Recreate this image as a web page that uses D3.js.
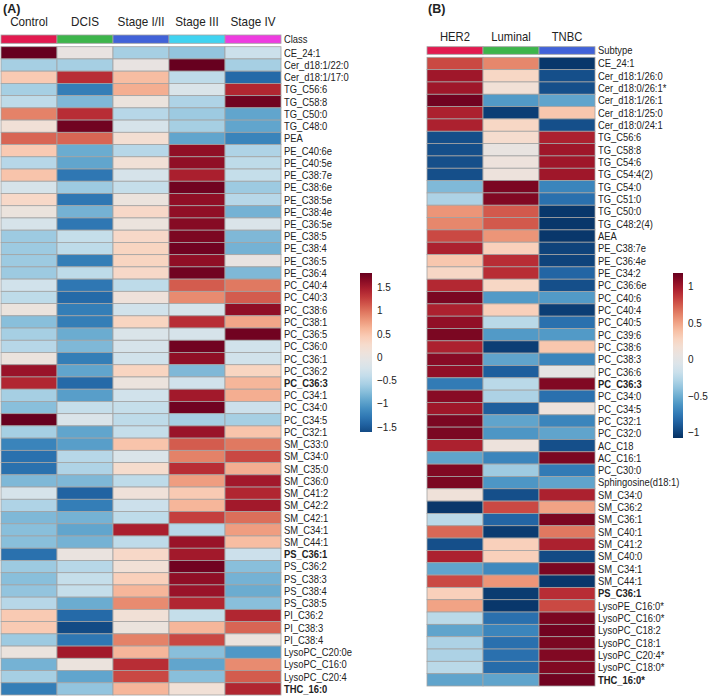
<!DOCTYPE html>
<html>
<head>
<meta charset="utf-8">
<script src="https://cdn.jsdelivr.net/npm/d3@7/dist/d3.min.js"></script>
<style>
  body { margin: 0; background: #fff; }
  text { font-family: Arial, "Liberation Sans", sans-serif; fill: #222; }
</style>
</head>
<body>
<script>
const outerWidth = 709;
const outerHeight = 699;

// ---- panel A data ----
const classesA = ["Control", "DCIS", "Stage I/II", "Stage III", "Stage IV"];
const classColorsA = ["#e21a4f", "#3db54b", "#4162d8", "#40d3f1", "#ee3ce0"];
const lipidsA = [
  "CE_24:1", "Cer_d18:1/22:0", "Cer_d18:1/17:0", "TG_C56:6", "TG_C58:8", "TG_C50:0", "TG_C48:0", "PEA",
  "PE_C40:6e", "PE_C40:5e", "PE_C38:7e", "PE_C38:6e", "PE_C38:5e", "PE_C38:4e", "PE_C36:5e", "PE_C38:5",
  "PE_C38:4", "PE_C36:5", "PE_C36:4", "PC_C40:4", "PC_C40:3", "PC_C38:6", "PC_C38:1", "PC_C36:5",
  "PC_C36:0", "PC_C36:1", "PC_C36:2", "PC_C36:3", "PC_C34:1", "PC_C34:0", "PC_C34:5", "PC_C32:1",
  "SM_C33:0", "SM_C34:0", "SM_C35:0", "SM_C36:0", "SM_C41:2", "SM_C42:2", "SM_C42:1", "SM_C34:1",
  "SM_C44:1", "PS_C36:1", "PS_C36:2", "PS_C38:3", "PS_C38:4", "PS_C38:5", "PI_C36:2", "PI_C38:3",
  "PI_C38:4", "LysoPC_C20:0e", "LysoPC_C16:0", "LysoPC_C20:4", "THC_16:0"
];
const boldA = ["PC_C36:3", "PS_C36:1", "THC_16:0"];
const valuesA = [
  [1.8, 0.0, -0.6, -0.7, -0.35],
  [-0.6, -0.6, 0.0, 1.8, -0.6],
  [0.45, 1.35, 0.55, -0.45, -1.4],
  [-0.6, -1.25, 0.65, -0.2, 1.4],
  [-0.45, -0.8, 0.05, -0.55, 1.75],
  [0.9, 1.35, -0.5, -0.65, -0.95],
  [0.15, 1.75, -0.25, -0.6, -0.95],
  [1.05, 1.05, 0.2, -0.95, -1.2],
  [0.45, -0.9, -0.5, 1.6, -0.55],
  [-0.5, -0.95, 0.15, 1.6, -0.45],
  [0.5, -1.3, -0.25, 1.45, -0.4],
  [-0.25, -0.65, -0.4, 1.75, -0.65],
  [0.3, -1.3, 0.05, 1.6, -0.5],
  [0.05, -0.85, 0.3, 1.6, -0.85],
  [-0.25, -1.3, 0.05, 1.65, -0.2],
  [-0.65, -0.4, 0.3, 1.7, -0.8],
  [-0.65, -0.45, 0.35, 1.75, -0.85],
  [-0.65, -1.25, 0.35, 1.6, 0.0],
  [-0.65, -0.45, 0.3, 1.75, -0.8],
  [-0.3, -1.3, -0.45, 1.1, 0.95],
  [-0.45, -1.4, 0.1, 0.85, 1.1],
  [0.05, -1.25, -0.3, -0.25, 1.6],
  [-0.75, -1.25, 0.35, 1.35, 0.7],
  [-0.6, -0.9, -0.2, -0.25, 1.75],
  [-0.5, -0.8, -0.25, 1.75, -0.3],
  [0.05, -1.25, -0.3, 1.6, -0.3],
  [1.55, -0.95, 0.35, -0.8, 0.35],
  [1.4, -1.4, 0.05, -0.3, 0.6],
  [-0.6, -1.0, -0.3, 1.5, 0.65],
  [-0.75, -0.4, -0.4, 1.75, -0.35],
  [1.8, -0.2, -0.45, -0.6, -0.6],
  [-0.6, -0.95, -0.4, 1.55, 0.5],
  [-1.2, -1.0, 0.5, 1.1, 0.95],
  [-1.35, -0.5, -0.2, 0.9, 1.2],
  [-1.35, -0.55, 0.25, 1.35, 0.65],
  [-0.8, -0.8, -0.45, 0.75, 1.5],
  [-0.25, -1.45, 0.12, 0.45, 1.4],
  [-0.55, -1.25, -0.35, 0.6, 1.5],
  [-0.8, -0.85, -0.45, 1.25, 1.0],
  [-0.75, -0.95, 1.45, -0.5, 0.75],
  [-0.75, -0.85, -0.45, 1.55, 0.55],
  [-1.35, 0.02, 0.3, 1.5, -0.35],
  [-0.65, -0.5, 0.15, 1.75, -0.75],
  [-0.75, -0.4, 0.4, 1.6, -0.85],
  [-0.7, -0.4, 0.6, 1.55, -0.9],
  [-0.5, -0.9, 0.85, 1.4, -0.75],
  [0.45, -1.4, 0.15, -0.4, 1.4],
  [0.45, -1.62, 0.05, 0.6, 1.05],
  [-0.65, -1.3, 0.9, 1.2, 0.05],
  [0.05, 1.5, 0.6, -0.75, -1.05],
  [-0.85, 0.05, 1.35, -0.95, 0.85],
  [-0.6, -0.95, 1.2, -0.75, 1.1],
  [-1.25, -0.7, 0.6, 0.15, 1.4]
];
const legendRangeA = [-1.62, 1.8];
const legendTicksA = [-1.5, -1, -0.5, 0, 0.5, 1, 1.5];

// ---- panel B data ----
const subtypesB = ["HER2", "Luminal", "TNBC"];
const subtypeColorsB = ["#e21a4f", "#3db54b", "#4162d8"];
const lipidsB = [
  "CE_24:1", "Cer_d18:1/26:0", "Cer_d18:0/26:1*", "Cer_d18:1/26:1", "Cer_d18:1/25:0", "Cer_d18:0/24:1",
  "TG_C56:6", "TG_C58:8", "TG_C54:6", "TG_C54:4(2)", "TG_C54:0", "TG_C51:0", "TG_C50:0", "TG_C48:2(4)",
  "AEA", "PE_C38:7e", "PE_C36:4e", "PE_C34:2", "PC_C36:6e", "PC_C40:6", "PC_C40:4", "PC_C40:5",
  "PC_C39:6", "PC_C38:6", "PC_C38:3", "PC_C36:6", "PC_C36:3", "PC_C34:0", "PC_C34:5", "PC_C32:1",
  "PC_C32:0", "AC_C18", "AC_C16:1", "PC_C30:0", "Sphingosine(d18:1)", "SM_C34:0", "SM_C36:2", "SM_C36:1",
  "SM_C40:1", "SM_C41:2", "SM_C40:0", "SM_C34:1", "SM_C44:1", "PS_C36:1", "LysoPE_C16:0*", "LysoPC_C16:0*",
  "LysoPC_C18:2", "LysoPC_C18:1", "LysoPC_C20:4*", "LysoPC_C18:0*", "THC_16:0*"
];
const boldB = ["PC_C36:3", "PS_C36:1", "THC_16:0*"];
const valuesB = [
  [0.8, 0.6, -1.05],
  [1.0, 0.25, -0.95],
  [1.0, 0.15, -0.95],
  [1.15, -0.6, -0.55],
  [0.95, -1.02, 0.35],
  [0.95, 0.25, -0.95],
  [-0.95, 0.2, 0.95],
  [-0.95, 0.05, 1.0],
  [-0.95, 0.1, 1.0],
  [-0.95, 0.1, 1.0],
  [-0.45, 1.12, -0.7],
  [-0.3, 1.1, -0.8],
  [0.55, 0.75, -1.05],
  [0.6, 0.75, -1.05],
  [0.8, 0.55, -1.05],
  [0.95, 0.3, -1.0],
  [0.35, 0.9, -1.0],
  [0.25, 0.9, -0.85],
  [0.92, 0.25, -0.95],
  [1.12, -0.6, -0.6],
  [0.95, 0.3, -1.02],
  [1.05, -0.25, -0.8],
  [1.12, -0.6, -0.6],
  [0.95, -1.02, 0.35],
  [1.08, -0.55, -0.7],
  [1.05, -0.88, 0.02],
  [-0.75, -0.25, 1.1],
  [1.08, -0.3, -0.8],
  [1.0, -0.88, 0.1],
  [1.12, -0.55, -0.7],
  [1.12, -0.62, -0.55],
  [0.95, 0.1, -0.95],
  [-0.55, -0.7, 1.12],
  [1.1, -0.35, -0.75],
  [1.12, -0.62, -0.55],
  [0.12, -0.95, 0.95],
  [-1.05, 0.8, 0.5],
  [-0.25, -0.85, 1.12],
  [0.7, -1.03, 0.65],
  [-0.95, 0.3, 0.95],
  [0.95, 0.3, -0.97],
  [-0.55, -0.68, 1.12],
  [0.8, 0.55, -1.05],
  [0.3, -1.03, 0.9],
  [0.5, -1.05, 0.8],
  [-0.25, -0.8, 1.12],
  [-0.55, -0.7, 1.15],
  [-0.3, -0.8, 1.12],
  [-0.3, -0.8, 1.1],
  [-0.25, -0.82, 1.1],
  [-0.55, -0.55, 1.15]
];
const legendRangeB = [-1.08, 1.18];
const legendTicksB = [-1, -0.5, 0, 0.5, 1];

// RdBu-like ramp
const palette = ["#053061", "#2166ac", "#4393c3", "#92c5de", "#d1e5f0", "#e9e5e3",
  "#fddbc7", "#f4a582", "#d6604d", "#b2182b", "#67001f"];
const ramp = d3.interpolateRgbBasis(palette);

const svg = d3.select("body").append("svg")
  .attr("width", outerWidth)
  .attr("height", outerHeight);

const defs = svg.append("defs");
const gridStroke = "#a3a3a3";
const squeeze = 0.87; // the figure text is a bit narrow

const drawPanel = opts => {
  const g = svg.append("g");
  const color = d3.scaleSequential(ramp).domain(opts.colorDomain);

  const xScale = d3.scaleBand().domain(opts.cols).range(opts.xRange);
  const yScale = d3.scaleBand().domain(opts.rows).range(opts.yRange);

  // panel letter
  g.append("text")
    .attr("x", opts.titleX).attr("y", 13)
    .style("font-size", "12.5px").style("font-weight", "bold")
    .text(opts.title);

  // column headers
  g.selectAll("text.col-label").data(opts.cols).enter().append("text")
    .attr("class", "col-label")
    .attr("transform", d => `translate(${xScale(d) + xScale.bandwidth() / 2}, ${opts.headerY}) scale(0.9, 1)`)
    .style("text-anchor", "middle")
    .style("font-size", opts.headerSize)
    .text(d => d);

  // annotation bar
  g.selectAll("rect.annot").data(opts.cols).enter().append("rect")
    .attr("class", "annot")
    .attr("x", d => xScale(d))
    .attr("y", opts.annotY[0])
    .attr("width", xScale.bandwidth())
    .attr("height", opts.annotY[1] - opts.annotY[0])
    .attr("fill", (d, i) => opts.annotColors[i])
    .attr("stroke", gridStroke).attr("stroke-width", 0.8);

  g.append("text")
    .attr("transform", `translate(${opts.xRange[1] + 3}, ${(opts.annotY[0] + opts.annotY[1]) / 2}) scale(${squeeze}, 1)`)
    .attr("dy", "0.36em")
    .style("font-size", "10.8px")
    .text(opts.annotLabel);

  // cells
  const cells = [];
  opts.values.forEach((row, i) => row.forEach((v, j) => cells.push({ r: opts.rows[i], c: opts.cols[j], v })));

  g.selectAll("rect.cell").data(cells).enter().append("rect")
    .attr("class", "cell")
    .attr("x", d => xScale(d.c))
    .attr("y", d => yScale(d.r))
    .attr("width", xScale.bandwidth())
    .attr("height", yScale.bandwidth())
    .attr("fill", d => color(d.v))
    .attr("stroke", gridStroke).attr("stroke-width", 0.8);

  // row labels
  g.selectAll("text.row-label").data(opts.rows).enter().append("text")
    .attr("class", "row-label")
    .attr("transform", d => `translate(${opts.xRange[1] + 3}, ${yScale(d) + yScale.bandwidth() / 2}) scale(${squeeze}, 1)`)
    .attr("dy", "0.36em")
    .style("font-size", "10.8px")
    .style("font-weight", d => opts.bold.includes(d) ? "bold" : "normal")
    .text(d => d);

  // colour legend, only over the data range
  const legendScale = d3.scaleLinear().domain(opts.range).range(opts.legendY);
  const gradId = `grad-${opts.title.replace(/\W/g, "")}`;
  const grad = defs.append("linearGradient")
    .attr("id", gradId)
    .attr("x1", 0).attr("y1", 1).attr("x2", 0).attr("y2", 0);
  d3.range(0, 1.0001, 0.05).forEach(t => {
    const v = opts.range[0] + t * (opts.range[1] - opts.range[0]);
    grad.append("stop").attr("offset", t).attr("stop-color", color(v));
  });

  g.append("rect")
    .attr("x", opts.legendX)
    .attr("y", opts.legendY[1])
    .attr("width", opts.legendW)
    .attr("height", opts.legendY[0] - opts.legendY[1])
    .attr("fill", `url(#${gradId})`);

  g.selectAll("text.legend-tick").data(opts.ticks).enter().append("text")
    .attr("class", "legend-tick")
    .attr("transform", d => `translate(${opts.legendX + opts.legendW + 5}, ${legendScale(d)}) scale(${squeeze}, 1)`)
    .attr("dy", "0.36em")
    .style("font-size", "11.5px")
    .text(d => d3.format("~g")(d));
};

drawPanel({
  title: "(A)", titleX: 3,
  cols: classesA, rows: lipidsA, values: valuesA, bold: boldA,
  xRange: [1, 281], yRange: [46.7, 695],
  headerY: 26, headerSize: "13px",
  annotY: [35, 43.3], annotColors: classColorsA, annotLabel: "Class",
  range: legendRangeA, colorDomain: [-1.8, 1.8], ticks: legendTicksA,
  legendX: 360, legendW: 12, legendY: [432, 273]
});

drawPanel({
  title: "(B)", titleX: 428,
  cols: subtypesB, rows: lipidsB, values: valuesB, bold: boldB,
  xRange: [427, 595], yRange: [57.3, 686],
  headerY: 40.5, headerSize: "12.5px",
  annotY: [46.7, 54.3], annotColors: subtypeColorsB, annotLabel: "Subtype",
  range: legendRangeB, colorDomain: legendRangeB, ticks: legendTicksB,
  legendX: 673, legendW: 10, legendY: [438, 273]
});
</script>
</body>
</html>
